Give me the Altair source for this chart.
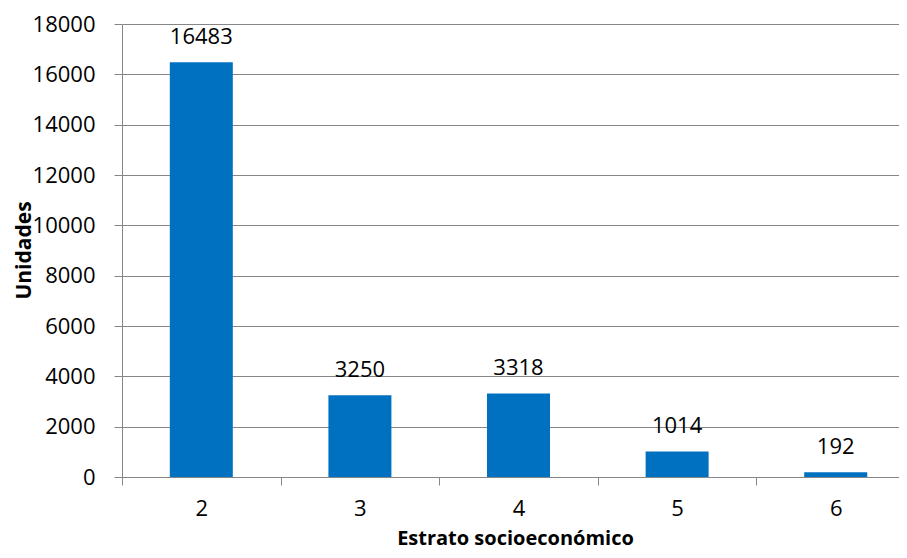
import altair as alt
import pandas as pd

estratos = [2, 3, 4, 5, 6]
unidades = [16483, 3250, 3318, 1014, 192]
y_ticks = [0, 2000, 4000, 6000, 8000, 10000, 12000, 14000, 16000, 18000]
x_ticks = [1.5, 2, 2.5, 3, 3.5, 4, 4.5, 5, 5.5, 6]

df = pd.DataFrame({"estrato": estratos, "unidades": unidades})

FONT = "Open Sans"
GRAY = "#868686"

x = alt.X(
    "estrato:Q",
    scale=alt.Scale(domain=[1.5, 6.399], nice=False, zero=False, padding=0),
    axis=alt.Axis(
        title="Estrato socioeconómico",
        values=x_ticks,
        labelExpr="datum.value % 1 === 0 ? format(datum.value, 'd') : ''",
        labelAngle=0,
        labelFont=FONT,
        labelFontSize=22,
        labelColor="#000000",
        labelBaseline="alphabetic",
        labelPadding=30,
        labelFlush=False,
        labelOverlap=False,
        tickSize=8,
        tickOpacity={"condition": {"test": "datum.value % 1 === 0", "value": 0}, "value": 1},
        tickColor=GRAY,
        domainColor=GRAY,
        grid=False,
        titleFont=FONT,
        titleFontSize=20,
        titleFontWeight="bold",
        titleColor="#000000",
        titleBaseline="alphabetic",
        titleY=67,
        titleX=393,
        titleAnchor="middle",
    ),
)

y = alt.Y(
    "unidades:Q",
    scale=alt.Scale(domain=[0, 18000], nice=False, padding=0),
    axis=alt.Axis(
        title="Unidades",
        values=y_ticks,
        format="d",
        labelFont=FONT,
        labelFontSize=22,
        labelColor="#000000",
        labelPadding=19,
        tickSize=8,
        tickColor=GRAY,
        domainColor=GRAY,
        gridColor=GRAY,
        grid=True,
        titleFont=FONT,
        titleFontSize=21,
        titleFontWeight="bold",
        titleColor="#000000",
        titleAngle=-90,
        titleBaseline="alphabetic",
        titleX=-92,
        titleY=226,
        titleAnchor="middle",
    ),
)

base = alt.Chart(df).encode(x=x, y=y)
bars = base.mark_bar(color="#0070C0", width=63)
labels = base.mark_text(
    dy=-18, baseline="alphabetic", fontSize=22, font=FONT, color="#000000"
).encode(text="unidades:Q")

chart = (
    alt.layer(bars, labels)
    .properties(
        width=777,
        height=453,
        autosize=alt.AutoSizeParams(type="none"),
        padding={"left": 114, "top": 16, "right": 0, "bottom": 73},
        background="#ffffff",
    )
    .configure_view(stroke=None)
)

chart.save("out.html", embed_options={"renderer": "svg", "actions": False})
